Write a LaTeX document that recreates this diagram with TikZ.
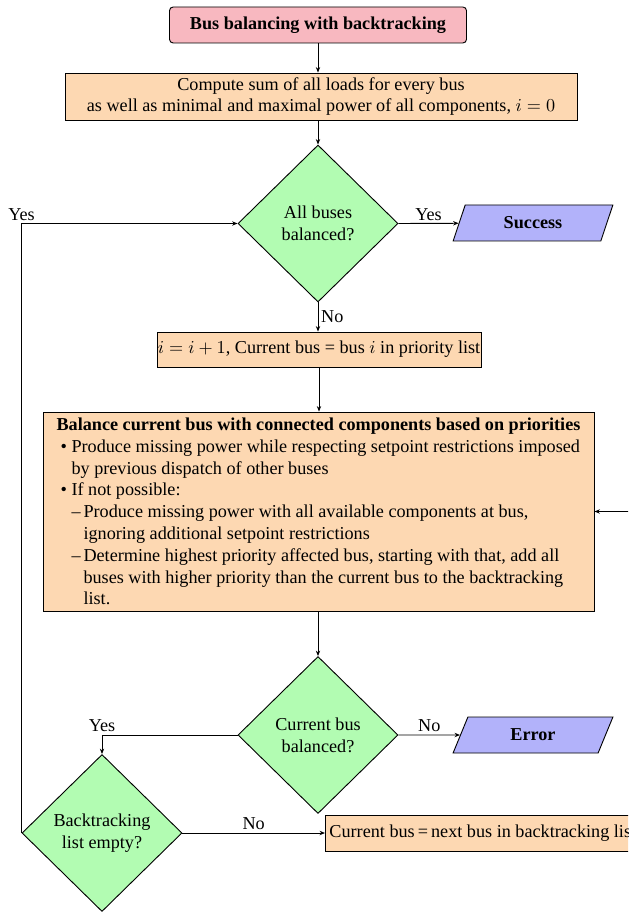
\documentclass[tikz,border=0pt]{standalone}
\usepackage{fontspec}
\setmainfont{Liberation Serif}
\usetikzlibrary{shapes.geometric,arrows.meta,calc}
\newdimen\pxu \pxu=0.55pt
\definecolor{pinkc}{RGB}{248,184,192}
\definecolor{orangec}{RGB}{253,216,178}
\definecolor{greenc}{RGB}{178,252,178}
\definecolor{bluec}{RGB}{178,178,250}
\begin{document}
\begin{tikzpicture}[x=0.55pt,y=-0.55pt,
  every node/.style={font=\fontsize{10}{12}\selectfont},
  line/.style={draw, line width=0.5pt},
  arr/.style={line, -{Stealth[length=3pt,width=2.4pt]}},
  titlebox/.style={draw, line width=0.5pt, rounded corners=2pt, fill=pinkc, minimum width=297\pxu, minimum height=36\pxu, inner sep=0pt, font=\fontsize{10}{12}\selectfont\bfseries},
  procbox/.style={draw, line width=0.5pt, fill=orangec, inner sep=0pt, align=center},
  decision/.style={diamond, draw, line width=0.5pt, fill=greenc, minimum width=160\pxu, minimum height=157\pxu, inner sep=0pt, align=center},
  io/.style={trapezium, trapezium left angle=67, trapezium right angle=113, trapezium stretches=true, draw, line width=0.5pt, fill=bluec, minimum width=160\pxu, minimum height=36\pxu, inner sep=0pt, font=\fontsize{10}{12}\selectfont\bfseries},
  lab/.style={inner sep=1.5pt}
]
\useasboundingbox (0,0) rectangle (628,915);
\clip (0,0) rectangle (628,915);

\node[titlebox] (title) at (318,25) {Bus balancing with backtracking};
\node[procbox, minimum width=512\pxu, minimum height=47\pxu] (init) at (321,96.5)
  {Compute sum of all loads for every bus\\as well as minimal and maximal power of all components, $i = 0$};
\node[decision] (d1) at (318,223.5) {All buses\\balanced?};
\node[io] (succ) at (533,223) {Success};
\node[procbox, minimum width=324\pxu, minimum height=35\pxu] (ibox) at (319,349.5)
  {$i = i + 1$, Current bus = bus $i$ in priority list};
\node[procbox, minimum width=551\pxu, minimum height=199\pxu, align=left] (bal) at (318.5,511.5)
  {\textbf{Balance current bus with connected components based on priorities}\\
   \makebox[15\pxu][l]{\hspace{4\pxu}\textbullet}Produce missing power while respecting setpoint restrictions imposed\\
   \hspace*{15\pxu}by previous dispatch of other buses\\
   \makebox[15\pxu][l]{\hspace{4\pxu}\textbullet}If not possible:\\
   \makebox[27\pxu][l]{\hspace{15\pxu}--}Produce missing power with all available components at bus,\\
   \hspace*{27\pxu}ignoring additional setpoint restrictions\\
   \makebox[27\pxu][l]{\hspace{15\pxu}--}Determine highest priority affected bus, starting with that, add all\\
   \hspace*{27\pxu}buses with higher priority than the current bus to the backtracking\\
   \hspace*{27\pxu}list.};
\node[decision] (d2) at (318,735) {Current bus\\balanced?};
\node[io] (err) at (533,735) {Error};
\node[decision] (d3) at (102,833) {Backtracking\\list empty?};
\node[procbox, minimum height=36\pxu, inner xsep=4\pxu, anchor=west] (nbus) at (325,833)
  {Current bus\,=\,next bus in backtracking list};

\draw[arr] (title.south) -- (title.south |- init.north);
\draw[arr] (d1.north |- init.south) -- (d1.north);
\draw[arr] (d1.east) -- node[lab, above] {Yes} (succ);
\draw[arr] (d1.south) -- node[lab, right] {No} (d1.south |- ibox.north);
\draw[arr] (ibox.south) -- (ibox.south |- bal.north);
\draw[arr] (d2.north |- bal.south) -- (d2.north);
\draw[arr] (d2.east) -- node[lab, above] {No} (err);
\draw[arr] (d2.west) -| node[lab, above, pos=0.5] {Yes} (d3.north);
\draw[arr] (d3.east) -- node[lab, above] {No} (nbus.west);
\draw[arr] (d3.west) |- node[lab, above, pos=0.5] {Yes} (d1.west);
\draw[arr] (nbus.east) -- ++(15,0) |- (bal.east);
\end{tikzpicture}
\end{document}
